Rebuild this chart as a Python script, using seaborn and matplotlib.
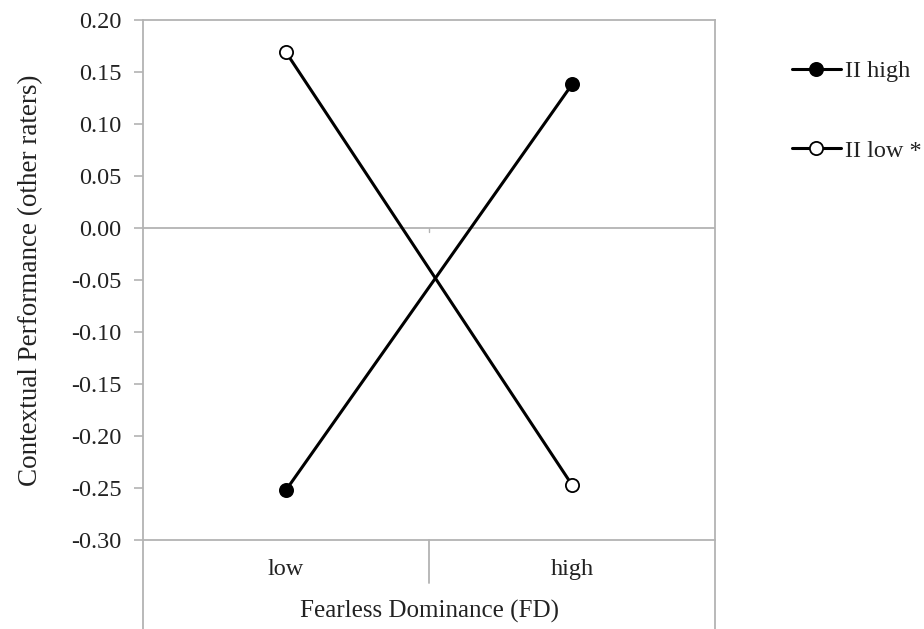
import pandas as pd
import numpy as np
import matplotlib
matplotlib.use("Agg")
import matplotlib.pyplot as plt
import matplotlib.transforms as mtransforms
import seaborn as sns

# values
fd_levels = ["low", "high"]
ii_high = [-0.252, 0.138]
ii_low = [0.169, -0.247]
series_names = ["II high", "II low *"]
y_ticks = [-0.30, -0.25, -0.20, -0.15, -0.10, -0.05, 0.00, 0.05, 0.10, 0.15, 0.20]

df = pd.DataFrame({
    "FD": fd_levels * 2,
    "value": ii_high + ii_low,
    "series": [series_names[0]] * 2 + [series_names[1]] * 2,
})

sns.set_style("white")
plt.rcParams['font.family'] = ['Liberation Serif', 'DejaVu Serif']
grey = "#b3b3b3"
txt = "#222222"

fig = plt.figure(figsize=(9.24, 6.29), dpi=100)
ax = fig.add_axes([143/924, 1 - 540/629, 572/924, 520/629])

face = {series_names[0]: "black", series_names[1]: "white"}
for name in series_names:
    sub = df[df["series"] == name]
    sns.lineplot(data=sub, x="FD", y="value", ax=ax, color="black", lw=2.2,
                 marker="o", markersize=9.5, markerfacecolor=face[name],
                 markeredgecolor="black", markeredgewidth=1.3, label=name,
                 legend=False)

ax.set_xlim(-0.5, 1.5)
ax.set_ylim(-0.30, 0.20)
ax.set_yticks(y_ticks)
ax.set_yticklabels([f"{t:.2f}" for t in y_ticks])
ax.set_xticks(range(len(fd_levels)))
ax.set_xticklabels(fd_levels)

for s in ax.spines.values():
    s.set_color(grey)
    s.set_linewidth(1.3)
ax.axhline(0, color=grey, lw=1.3, zorder=1)

ax.tick_params(axis="y", left=True, length=6.5, width=1.2, color=grey,
               pad=9, labelsize=17.5, labelcolor=txt)
ax.tick_params(axis="x", bottom=False, length=0, pad=14, labelsize=17.5,
               labelcolor=txt)

# Excel-style extensions below the plot area
ext = 89 / 520
ax.plot([0, 0], [0, -ext], transform=ax.transAxes, color=grey, lw=1.3, clip_on=False)
ax.plot([1, 1], [0, -ext], transform=ax.transAxes, color=grey, lw=1.3, clip_on=False)
ax.plot([0.5, 0.5], [0, -43 / 520], transform=ax.transAxes, color=grey, lw=1.3,
        clip_on=False)
blend = mtransforms.blended_transform_factory(ax.transAxes, ax.transData)
ax.plot([0.5, 0.5], [0, -0.004], transform=blend, color=grey, lw=1.0)

ax.set_xlabel("Fearless Dominance (FD)", fontsize=18, color=txt)
ax.set_ylabel("Contextual Performance (other raters)", fontsize=19.5, color=txt)
ax.xaxis.set_label_coords(0.5, -0.115)
ax.yaxis.set_label_coords(-0.175, 0.5)

handles, labels = ax.get_legend_handles_labels()
fig.legend(handles, labels, loc="upper left", bbox_to_anchor=(792/924, 1 - 60/629),
           frameon=False, fontsize=17.5, handlelength=2.0, handletextpad=0.2,
           labelspacing=2.37, borderpad=0, borderaxespad=0, labelcolor=txt)

fig.savefig("out.png", dpi=100)
